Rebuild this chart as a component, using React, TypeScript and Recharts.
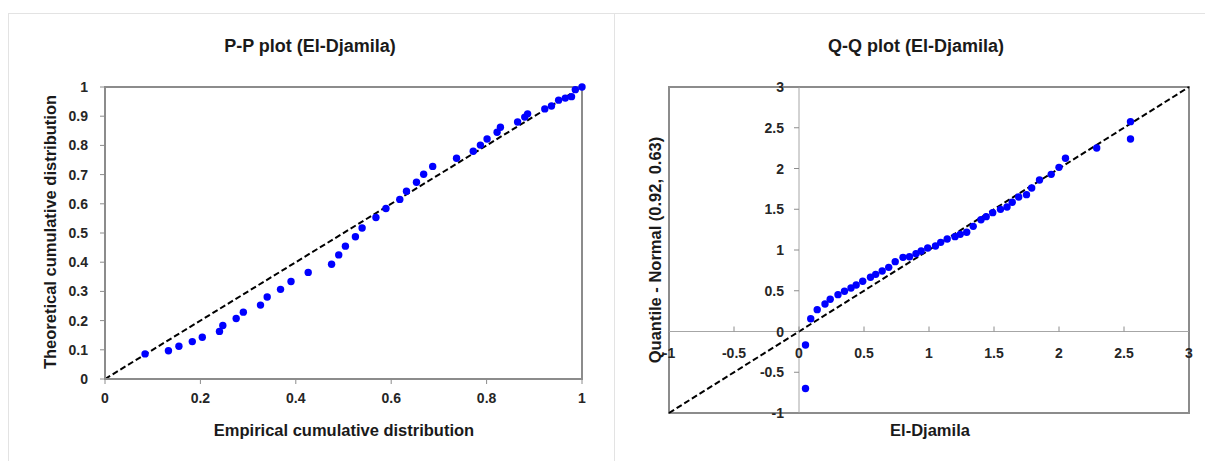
import React from 'react';
import { ScatterChart, Scatter, XAxis, YAxis, ReferenceLine, ReferenceArea, ReferenceDot } from 'recharts';

// P-P plot data
const ppEmpirical = [0.084, 0.133, 0.155, 0.183, 0.204, 0.240, 0.247, 0.275, 0.290, 0.326, 0.340, 0.368, 0.390, 0.426, 0.475, 0.490, 0.504, 0.525, 0.539, 0.568, 0.589, 0.618, 0.632, 0.653, 0.668, 0.687, 0.737, 0.772, 0.787, 0.801, 0.822, 0.829, 0.865, 0.880, 0.886, 0.922, 0.936, 0.951, 0.965, 0.978, 0.986, 1.0];
const ppTheoretical = [0.086, 0.097, 0.112, 0.128, 0.143, 0.163, 0.183, 0.207, 0.229, 0.253, 0.281, 0.307, 0.334, 0.365, 0.393, 0.425, 0.455, 0.487, 0.517, 0.553, 0.584, 0.615, 0.643, 0.674, 0.701, 0.728, 0.756, 0.780, 0.801, 0.822, 0.845, 0.862, 0.880, 0.897, 0.908, 0.925, 0.935, 0.955, 0.962, 0.967, 0.991, 1.0];
const ppXTicks = [0, 0.2, 0.4, 0.6, 0.8, 1];
const ppYTicks = [0, 0.1, 0.2, 0.3, 0.4, 0.5, 0.6, 0.7, 0.8, 0.9, 1];

// Q-Q plot data
const qqObserved = [0.05, 0.05, 0.09, 0.14, 0.2, 0.24, 0.3, 0.35, 0.4, 0.44, 0.49, 0.55, 0.59, 0.64, 0.69, 0.74, 0.8, 0.85, 0.9, 0.94, 0.99, 1.05, 1.09, 1.14, 1.2, 1.24, 1.29, 1.34, 1.4, 1.44, 1.49, 1.55, 1.6, 1.64, 1.69, 1.75, 1.79, 1.85, 1.94, 2.0, 2.05, 2.29, 2.55, 2.55];
const qqNormal = [-0.70, -0.166, 0.157, 0.268, 0.337, 0.395, 0.452, 0.493, 0.534, 0.571, 0.616, 0.665, 0.701, 0.742, 0.787, 0.857, 0.910, 0.918, 0.955, 0.988, 1.025, 1.049, 1.094, 1.135, 1.164, 1.192, 1.217, 1.290, 1.372, 1.409, 1.458, 1.499, 1.528, 1.585, 1.650, 1.679, 1.761, 1.859, 1.928, 2.014, 2.125, 2.252, 2.575, 2.362];
const qqTicks = [-1, -0.5, 0, 0.5, 1, 1.5, 2, 2.5, 3];

const FONT = '"Liberation Sans", Arial, sans-serif';
const FRAME = '#8c8c8c';
const TICK_COLOR = '#262626';

const ppData = ppEmpirical.map((x, i) => ({ x, y: ppTheoretical[i] }));
const qqData = qqObserved.map((x, i) => ({ x, y: qqNormal[i] }));

const Dot = (p: any) => <circle cx={p.cx} cy={p.cy} r={3.7} fill="#0000ff" />;

const tickStyle = { fill: TICK_COLOR, fontSize: 14, fontWeight: 'bold', fontFamily: FONT } as any;

const Title = ({ x, y, text, size, rotate }: any) => (
  <div
    style={{
      position: 'absolute',
      left: x,
      top: y,
      transform: `translate(-50%, -50%)${rotate ? ' rotate(-90deg)' : ''}`,
      whiteSpace: 'nowrap',
      fontFamily: FONT,
      fontWeight: 'bold',
      fontSize: size,
      color: '#1a1a1a',
      lineHeight: 1,
    }}
  >
    {text}
  </div>
);

const YTickShape = (label: string) => (p: any) => (
  <g>
    <line x1={p.cx - 5} y1={p.cy} x2={p.cx} y2={p.cy} stroke={FRAME} strokeWidth={1} />
    <text x={p.cx - 15} y={p.cy} textAnchor="end" dominantBaseline="central" style={tickStyle}>{label}</text>
  </g>
);

const XTickShape = (label: string) => (p: any) => (
  <g>
    <line x1={p.cx} y1={p.cy - 5} x2={p.cx} y2={p.cy} stroke={FRAME} strokeWidth={1} />
    <text x={p.cx} y={p.cy + 21} textAnchor="middle" dominantBaseline="central" style={tickStyle}>{label}</text>
  </g>
);

export default function App() {
  return (
    <div style={{ position: 'absolute', left: 0, top: 0, width: 1205, height: 461, background: '#fff', overflow: 'hidden' }}>
      {/* panel borders */}
      <div style={{ position: 'absolute', left: 8, top: 13, width: 1197, height: 1, background: '#e3e3e3' }} />
      <div style={{ position: 'absolute', left: 8, top: 13, width: 1, height: 448, background: '#e3e3e3' }} />
      <div style={{ position: 'absolute', left: 614, top: 13, width: 1, height: 448, background: '#e3e3e3' }} />

      {/* P-P plot */}
      <div style={{ position: 'absolute', left: 0, top: 0 }}>
        <ScatterChart width={610} height={461} margin={{ top: 87, right: 28, bottom: 52, left: 55 }}>
          <XAxis
            type="number"
            dataKey="x"
            domain={[0, 1]}
            ticks={ppXTicks}
            interval={0}
            height={30}
            tickSize={5}
            tickMargin={9}
            tick={tickStyle}
            tickLine={{ stroke: FRAME }}
            axisLine={{ stroke: FRAME, strokeWidth: 2 }}
          />
          <YAxis
            type="number"
            dataKey="y"
            domain={[0, 1]}
            ticks={ppYTicks}
            interval={0}
            width={50}
            tickSize={5}
            tickMargin={12}
            tick={tickStyle}
            tickLine={{ stroke: FRAME }}
            axisLine={{ stroke: FRAME, strokeWidth: 2 }}
          />
          <ReferenceArea x1={0} x2={1} y1={0} y2={1} fill="none" fillOpacity={0} stroke={FRAME} strokeWidth={2} />
          <ReferenceLine segment={[{ x: 0, y: 0 }, { x: 1, y: 1 }]} stroke="#000" strokeWidth={2} strokeDasharray="6 3" />
          <Scatter data={ppData} shape={Dot} isAnimationActive={false} />
        </ScatterChart>
      </div>

      {/* Q-Q plot */}
      <div style={{ position: 'absolute', left: 605, top: 0 }}>
        <ScatterChart width={600} height={461} margin={{ top: 87, right: 16, bottom: 48, left: 64 }}>
          <XAxis type="number" dataKey="x" domain={[-1, 3]} hide />
          <YAxis type="number" dataKey="y" domain={[-1, 3]} hide />
          <ReferenceArea x1={-1} x2={3} y1={-1} y2={3} fill="none" fillOpacity={0} stroke={FRAME} strokeWidth={2} />
          <ReferenceLine x={0} stroke="#a6a6a6" strokeWidth={1} />
          <ReferenceLine y={0} stroke="#a6a6a6" strokeWidth={1} />
          {qqTicks.map((v) => (
            <ReferenceDot key={'y' + v} x={0} y={v} r={0} ifOverflow="visible" shape={YTickShape(String(v))} />
          ))}
          {qqTicks.map((v) => (
            <ReferenceDot key={'x' + v} x={v} y={0} r={0} ifOverflow="visible" shape={XTickShape(String(v))} />
          ))}
          <ReferenceLine segment={[{ x: -1, y: -1 }, { x: 3, y: 3 }]} stroke="#000" strokeWidth={2} strokeDasharray="6 3" />
          <Scatter data={qqData} shape={Dot} isAnimationActive={false} />
        </ScatterChart>
      </div>

      {/* titles */}
      <Title x={310} y={46} text="P-P plot (El-Djamila)" size={18} />
      <Title x={916} y={46} text="Q-Q plot (El-Djamila)" size={18} />
      <Title x={344} y={430} text="Empirical cumulative distribution" size={16.5} />
      <Title x={50} y={232} text="Theoretical cumulative distribution" size={16.5} rotate />
      <Title x={930} y={430} text="El-Djamila" size={16.5} />
      <Title x={655} y={250} text="Quantile - Normal (0.92, 0.63)" size={16.5} rotate />
    </div>
  );
}
